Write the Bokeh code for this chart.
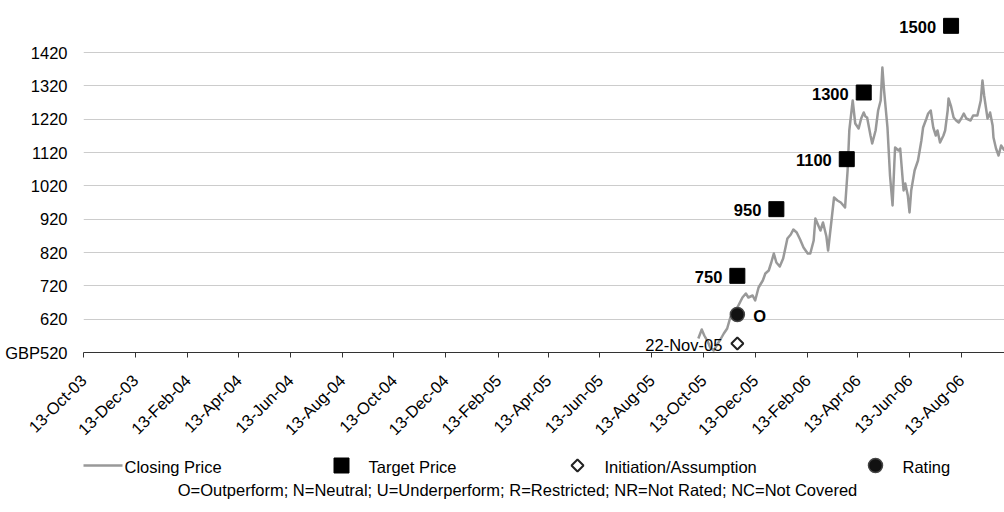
import math
import pandas as pd
from bokeh.plotting import figure
from bokeh.layouts import column
from bokeh.models import Range1d, FixedTicker, ColumnDataSource, DatetimeTickFormatter
from bokeh.core.properties import value
from bokeh.embed import file_html
from bokeh.resources import INLINE

FONT = "'Liberation Sans', Arial, sans-serif"

# ---------------- data ----------------
close_dates = [
    "2005-10-07", "2005-10-11", "2005-10-14", "2005-10-18", "2005-10-21", "2005-10-25", "2005-10-30",
    "2005-11-02", "2005-11-06", "2005-11-10", "2005-11-14", "2005-11-17", "2005-11-22", "2005-11-28",
    "2005-12-02", "2005-12-05", "2005-12-10", "2005-12-13", "2005-12-17", "2005-12-22", "2005-12-25",
    "2005-12-29", "2006-01-01", "2006-01-04", "2006-01-07", "2006-01-11", "2006-01-15", "2006-01-20",
    "2006-01-24", "2006-01-27", "2006-01-31", "2006-02-04", "2006-02-08", "2006-02-13", "2006-02-16",
    "2006-02-20", "2006-02-22", "2006-02-26", "2006-02-28", "2006-03-03", "2006-03-07", "2006-03-09",
    "2006-03-13", "2006-03-16", "2006-03-20", "2006-03-24", "2006-03-27", "2006-03-29", "2006-04-01",
    "2006-04-03", "2006-04-07", "2006-04-10", "2006-04-14", "2006-04-17", "2006-04-20", "2006-04-22",
    "2006-04-24", "2006-04-28", "2006-04-30", "2006-05-04", "2006-05-07", "2006-05-10", "2006-05-12",
    "2006-05-14", "2006-05-18", "2006-05-21", "2006-05-24", "2006-05-26", "2006-05-27", "2006-05-31",
    "2006-06-02", "2006-06-06", "2006-06-08", "2006-06-11", "2006-06-13", "2006-06-15", "2006-06-19",
    "2006-06-23", "2006-06-27", "2006-06-29", "2006-07-03", "2006-07-05", "2006-07-08", "2006-07-11",
    "2006-07-14", "2006-07-16", "2006-07-19", "2006-07-23", "2006-07-25", "2006-07-28", "2006-07-29",
    "2006-08-01", "2006-08-04", "2006-08-07", "2006-08-10", "2006-08-13", "2006-08-16", "2006-08-19",
    "2006-08-24", "2006-08-27", "2006-09-01", "2006-09-05", "2006-09-07", "2006-09-09", "2006-09-13",
    "2006-09-15", "2006-09-16", "2006-09-19", "2006-09-20", "2006-09-23", "2006-09-26", "2006-09-29",
    "2006-10-03",
]
close_prices = [
    562, 589, 571, 553, 535, 526, 547,
    559, 577, 592, 628, 637, 655, 685,
    697, 685, 691, 676, 715, 736, 757,
    766, 790, 817, 790, 778, 802, 862,
    874, 889, 880, 859, 835, 817, 817,
    856, 922, 898, 886, 910, 868, 826,
    916, 985, 976, 970, 961, 955, 1066,
    1186, 1276, 1207, 1192, 1222, 1240, 1228,
    1225, 1171, 1147, 1186, 1246, 1276, 1375,
    1306, 1195, 1051, 961, 1081, 1135, 1126,
    1132, 1006, 1027, 991, 940, 1006, 1066,
    1096, 1156, 1195, 1222, 1237, 1246, 1195,
    1171, 1186, 1150, 1171, 1186, 1246, 1282,
    1258, 1225, 1216, 1210, 1222, 1237, 1222,
    1216, 1231, 1231, 1276, 1336, 1291, 1222,
    1231, 1240, 1201, 1165, 1132, 1111, 1141,
    1126,
]

target_dates = ["2005-11-22", "2006-01-07", "2006-03-31", "2006-04-20", "2006-08-01"]
target_prices = [750, 950, 1100, 1300, 1500]
target_labels = ["750", "950", "1100", "1300", "1500"]

initiation_dates = ["2005-11-22"]
initiation_labels = ["22-Nov-05"]
initiation_marker_level = [547]

rating_dates = ["2005-11-22"]
rating_prices = [634]
rating_labels = ["O"]

tick_dates = ["2003-10-13", "2003-12-13", "2004-02-13", "2004-04-13", "2004-06-13", "2004-08-13",
              "2004-10-13", "2004-12-13", "2005-02-13", "2005-04-13", "2005-06-13", "2005-08-13",
              "2005-10-13", "2005-12-13", "2006-02-13", "2006-04-13", "2006-06-13", "2006-08-13"]
y_ticks = [520, 620, 720, 820, 920, 1020, 1120, 1220, 1320, 1420]
y_unit = "GBP"

x_start, x_end = "2003-10-13", "2006-10-03"
y_start, y_end = 520, 1576

legend_items = ["Closing Price", "Target Price", "Initiation/Assumption", "Rating"]
footnote = "O=Outperform; N=Neutral; U=Underperform; R=Restricted; NR=Not Rated; NC=Not Covered"

LINE_COLOR = "#999999"
FS = "16.5px"

# ---------------- main plot ----------------
def ms(d):
    return pd.Timestamp(d).value // 10**6

p = figure(width=1004, height=448, output_backend="svg", toolbar_location=None,
           x_axis_type="datetime",
           x_range=Range1d(pd.Timestamp(x_start), pd.Timestamp(x_end)),
           y_range=Range1d(y_start, y_end),
           min_border_left=83, min_border_right=0, min_border_top=0, min_border_bottom=96)
p.outline_line_color = None
p.background_fill_color = "white"
p.border_fill_color = "white"

src = ColumnDataSource(dict(x=pd.to_datetime(close_dates), y=close_prices))
p.line("x", "y", source=src, line_color=LINE_COLOR, line_width=2.5, line_join="round")

tsrc = ColumnDataSource(dict(x=pd.to_datetime(target_dates), y=target_prices, t=target_labels))
p.scatter("x", "y", source=tsrc, marker="square", size=15, fill_color="black", line_color="black")
p.text("x", "y", text="t", source=tsrc, text_align="right", text_baseline="middle",
       x_offset=-15, y_offset=1, text_font=value(FONT), text_font_size=FS, text_font_style="bold",
       text_color="black")

isrc = ColumnDataSource(dict(x=pd.to_datetime(initiation_dates), y=initiation_marker_level, t=initiation_labels))
p.scatter("x", "y", source=isrc, marker="square", angle=math.pi / 4, size=8.5, fill_color="white",
          line_color="#222222", line_width=2)
p.text("x", "y", text="t", source=isrc, text_align="right", text_baseline="middle",
       x_offset=-15, y_offset=1, text_font=value(FONT), text_font_size=FS, text_color="black")

rsrc = ColumnDataSource(dict(x=pd.to_datetime(rating_dates), y=rating_prices, t=rating_labels))
p.scatter("x", "y", source=rsrc, marker="circle", size=14, fill_color="#111111", line_color="#444444", line_width=1.5)
p.text("x", "y", text="t", source=rsrc, text_align="left", text_baseline="middle",
       x_offset=16, y_offset=1, text_font=value(FONT), text_font_size=FS, text_font_style="bold",
       text_color="black")

xa = p.xaxis[0]
xa.ticker = FixedTicker(ticks=[ms(d) for d in tick_dates])
xa.formatter = DatetimeTickFormatter(days="%d-%b-%y", months="%d-%b-%y", years="%d-%b-%y")
xa.major_label_orientation = math.pi / 4
xa.major_label_text_font = FONT
xa.major_label_text_font_size = FS
xa.major_label_text_color = "black"
xa.axis_line_color = "#333333"
xa.major_tick_line_color = "#333333"
xa.major_tick_out = 5
xa.major_tick_in = 0
xa.minor_tick_line_color = None
xa.major_label_standoff = 20

ya = p.yaxis[0]
ya.ticker = FixedTicker(ticks=y_ticks)
ya.major_label_overrides = {y_ticks[0]: y_unit + str(y_ticks[0])}
ya.axis_line_color = None
ya.major_tick_line_color = None
ya.minor_tick_line_color = None
ya.major_label_text_font = FONT
ya.major_label_text_font_size = FS
ya.major_label_text_color = "black"
ya.major_label_standoff = 10

p.xgrid.grid_line_color = None
p.ygrid.grid_line_color = "#cccccc"
p.ygrid.grid_line_width = 1
p.ygrid.ticker = FixedTicker(ticks=y_ticks[1:])

# ---------------- legend strip (frame aligned with the main plot: 83..1004 px) ----------------
lg = figure(width=1004, height=64, output_backend="svg", toolbar_location=None,
            x_range=Range1d(83, 1004), y_range=Range1d(64, 0),
            min_border=0, min_border_left=83, min_border_right=0, min_border_top=0, min_border_bottom=0)
lg.axis.visible = False
lg.grid.visible = False
lg.outline_line_color = None
lg.line([76, 122], [17, 17], line_color=LINE_COLOR, line_width=2.5)
lg.scatter([341], [17], marker="square", size=15, fill_color="black", line_color="black")
lg.scatter([577], [17], marker="square", angle=math.pi / 4, size=8.5, fill_color="white",
           line_color="#222222", line_width=2)
lg.scatter([875], [17], marker="circle", size=14, fill_color="#111111", line_color="#444444", line_width=1.5)
lg.text([124, 368, 604, 902], [18, 18, 18, 18], text=legend_items, text_align="left",
        text_baseline="middle", text_font=value(FONT), text_font_size=FS, text_color="black")
lg.text([517], [41], text=[footnote], text_align="center", text_baseline="middle",
        text_font=value(FONT), text_font_size=FS, text_color="black")

layout = column(p, lg, spacing=0)
open("out.html", "w").write(file_html(layout, INLINE))
